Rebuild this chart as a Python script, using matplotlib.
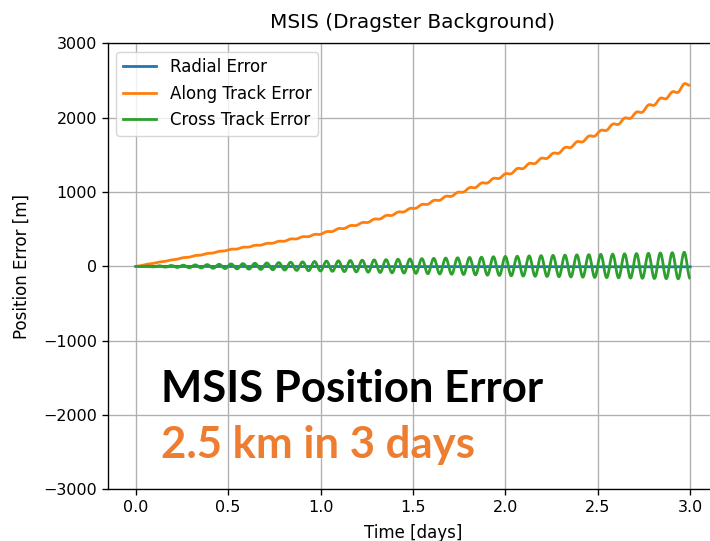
import numpy as np
import matplotlib.pyplot as plt
from matplotlib.path import Path
from matplotlib.patches import PathPatch
from matplotlib.lines import Line2D

# --- values ---
# along-track and cross-track errors sampled at each half-orbit extremum
# (94 samples, evenly spaced from 0 to 3 days)
n_samples = 94
t_days = np.linspace(0.0, 3.0, n_samples)

along_err = [
    0, 12, 30, 41, 59, 69, 87, 97, 118, 124, 146, 152, 174, 180, 203, 209,
    231, 234, 257, 260, 283, 286, 309, 312, 338, 339, 369, 370, 399, 400,
    430, 431, 467, 470, 508, 510, 548, 551, 589, 592, 636, 638, 684, 686,
    731, 733, 779, 782, 833, 835, 888, 889, 942, 943, 996, 1000, 1059, 1060,
    1121, 1122, 1183, 1184, 1245, 1247, 1316, 1316, 1384, 1384, 1453, 1453,
    1521, 1523, 1599, 1600, 1676, 1676, 1752, 1752, 1829, 1830, 1913, 1911,
    1994, 1992, 2075, 2074, 2171, 2169, 2261, 2256, 2347, 2343, 2455, 2440,
]

cross_err = [
    0, -2, 4, -6, 8, -10, 12, -14, 16, -18, 20, -21, 24, -25, 28, -29,
    33, -33, 37, -37, 42, -41, 46, -45, 51, -49, 56, -54, 61, -58, 66, -62,
    71, -66, 75, -70, 79, -74, 83, -78, 87, -82, 91, -86, 96, -90, 100, -94,
    104, -98, 108, -102, 112, -106, 116, -110, 120, -114, 124, -118, 130, -122,
    134, -126, 137, -130, 141, -133, 144, -136, 148, -139, 151, -142, 155, -145,
    158, -148, 162, -151, 165, -154, 169, -157, 172, -160, 176, -163, 180, -165,
    184, -167, 190, -165,
]

radial_t = [0.0, 0.5, 1.0, 1.5, 2.0, 2.5, 3.0]
radial_err = [0, -1, -2, -3, -4, -5, -6]

labels = ['Radial Error', 'Along Track Error', 'Cross Track Error']
colors = ['#1f77b4', '#ff7f0e', '#2ca02c']
LW = 2.0


def smooth_path(x, y, k=1 - 2 / np.pi):
    """Cubic Bezier through the samples, tangent = central difference."""
    x = np.asarray(x, float)
    y = np.asarray(y, float)
    m = np.zeros_like(y)
    m[1:-1] = (y[2:] - y[:-2]) / (x[2:] - x[:-2])
    m[0], m[-1] = m[1], m[-2]
    verts = [(x[0], y[0])]
    codes = [Path.MOVETO]
    for i in range(len(x) - 1):
        h = x[i + 1] - x[i]
        verts += [(x[i] + k * h, y[i] + m[i] * k * h),
                  (x[i + 1] - k * h, y[i + 1] - m[i + 1] * k * h),
                  (x[i + 1], y[i + 1])]
        codes += [Path.CURVE4] * 3
    return Path(verts, codes)


plt.rcParams.update({
    'axes.titlesize': 14.4, 'axes.labelsize': 12, 'legend.fontsize': 12,
    'xtick.labelsize': 11.5, 'ytick.labelsize': 11.5,
    'axes.linewidth': 0.96, 'grid.linewidth': 0.96,
    'xtick.major.size': 4.2, 'ytick.major.size': 4.2,
    'xtick.major.width': 0.96, 'ytick.major.width': 0.96,
})

fig = plt.figure(figsize=(7.10, 5.41), dpi=100)
ax = fig.add_axes([0.1521, 0.0952, 0.859, 0.8248])
ax.grid(True)
ax.spines['right'].set_visible(False)

ax.plot(radial_t, radial_err, color=colors[0], lw=LW)
for vals, c in [(along_err, colors[1]), (cross_err, colors[2])]:
    ax.add_patch(PathPatch(smooth_path(t_days, vals), fill=False,
                           edgecolor=c, lw=LW, zorder=2,
                           joinstyle='round', capstyle='butt'))

ax.set_xlim(-0.15, 3.15)
ax.set_ylim(-3000, 3000)
ax.set_xticks([0.0, 0.5, 1.0, 1.5, 2.0, 2.5, 3.0])
ax.set_yticks([-3000, -2000, -1000, 0, 1000, 2000, 3000])
ax.set_xlabel('Time [days]', labelpad=6)
ax.set_ylabel('Position Error [m]', labelpad=9)
ax.set_title('MSIS (Dragster Background)', pad=11)

handles = [Line2D([], [], color=c, lw=LW) for c in colors]
ax.legend(handles, labels, loc='upper left')

# slide annotation
ax.text(0.137, -1825, 'MSIS Position Error', fontsize=31.5, fontweight='bold',
        family='Lato', color='black', va='baseline')
ax.text(0.137, -2575, '2.5 km in 3 days', fontsize=31.5, fontweight='bold',
        family='Lato', color='#ED7D31', va='baseline')

fig.savefig('out.png', dpi=100)
